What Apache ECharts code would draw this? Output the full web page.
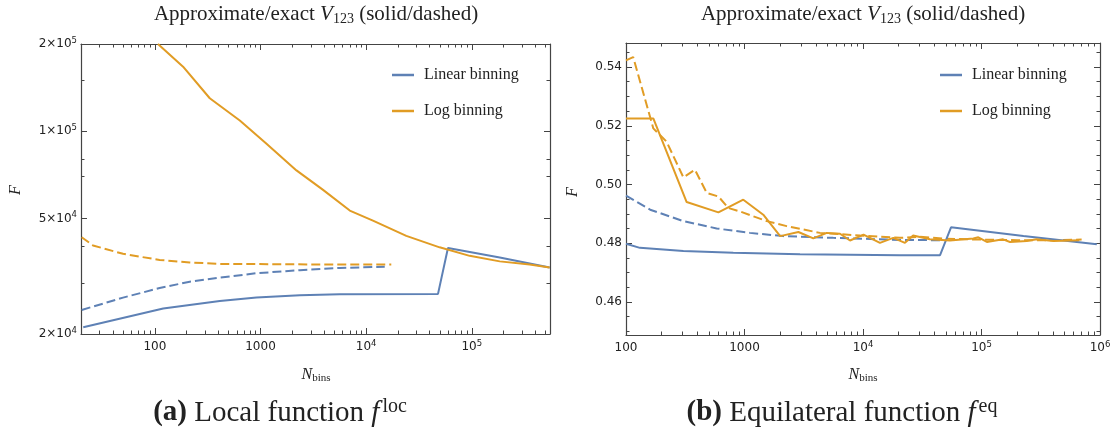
<!DOCTYPE html>
<html><head><meta charset="utf-8">
<script src="https://cdn.jsdelivr.net/npm/echarts@6/dist/echarts.min.js"></script>
<style>html,body{margin:0;padding:0;background:#fff}#c{width:1118px;height:430px}</style>
</head><body><div id="c"></div>
<script>
// ---------- data: (a) local function ----------
const locLogApproxN = [107, 185, 331, 637, 1140, 2190, 3910, 7000, 11600, 24000, 49600, 95500, 184000, 353000, 546000];
const locLogApproxF = [200000, 167000, 130000, 109000, 90600, 73300, 62800, 53300, 49200, 43600, 39800, 37200, 35600, 34700, 33900];
const locLogExactN = [20.3, 26, 50, 111, 214, 412, 5620, 17300];
const locLogExactF = [43100, 40400, 37800, 36000, 35300, 34900, 34700, 34700];
const locLinExactN = [20.3, 50, 111, 214, 412, 916, 2360, 5620, 15000];
const locLinExactF = [24200, 26700, 28800, 30300, 31300, 32400, 33200, 33800, 34100];
const locLinApproxN = [21, 120, 412, 916, 2360, 5620, 47900, 59500, 184000, 546000];
const locLinApproxF = [21100, 24500, 26000, 26700, 27200, 27400, 27500, 39600, 36700, 33900];

// ---------- data: (b) equilateral function ----------
const eqLinApproxN = [100, 131, 305, 804, 2940, 20500, 44700, 55300, 226000, 940000];
const eqLinApproxF = [0.4798, 0.4784, 0.4773, 0.4767, 0.4762, 0.4759, 0.4759, 0.4854, 0.4824, 0.4796];
const eqLinExactN = [100, 160, 305, 582, 1110, 2120, 5610, 20500, 44700];
const eqLinExactF = [0.4962, 0.4914, 0.4875, 0.4850, 0.4835, 0.4824, 0.4818, 0.4811, 0.4810];
const eqLogApproxN = [100, 170, 325, 602, 977, 1440, 2000, 2850, 3810, 4940, 6400, 7770, 10100, 13900, 18000, 22600, 26500, 36700, 54200, 85300, 94000, 111000, 152000, 174000, 241000, 292000, 404000, 668000];
const eqLogApproxF = [0.5225, 0.5225, 0.4940, 0.4905, 0.4948, 0.4897, 0.4824, 0.4838, 0.4816, 0.4835, 0.4832, 0.4809, 0.4829, 0.4801, 0.4818, 0.4801, 0.4826, 0.4813, 0.4809, 0.4816, 0.4820, 0.4804, 0.4813, 0.4804, 0.4807, 0.4813, 0.4807, 0.4810];
const eqLogExactN = [100, 115, 170, 220, 305, 382, 480, 602, 730, 916, 1540, 2270, 4330, 9440, 20500, 30000, 50000, 100000, 200000, 400000, 700000];
const eqLogExactF = [0.5423, 0.5434, 0.5191, 0.5146, 0.5024, 0.5050, 0.4971, 0.4959, 0.4920, 0.4908, 0.4875, 0.4858, 0.4835, 0.4826, 0.4818, 0.4822, 0.4815, 0.4812, 0.4810, 0.4810, 0.4812];

// ---------- ticks ----------
const locXMajor = [100, 1000, 1e4, 1e5];
const locXLabels = ['100', '1000', '10^4', '10^5'];
const locXMinor = [30, 40, 50, 60, 70, 80, 90, 200, 300, 400, 500, 600, 700, 800, 900, 2000, 3000, 4000, 5000, 6000, 7000, 8000, 9000, 2e4, 3e4, 4e4, 5e4, 6e4, 7e4, 8e4, 9e4, 2e5, 3e5, 4e5, 5e5];
const locYMajor = [2e4, 5e4, 1e5, 2e5];
const locYLabels = ['2×10^4', '5×10^4', '1×10^5', '2×10^5'];
const locYMinor = [3e4, 4e4, 7e4, 8e4, 1.5e5];
const eqXMajor = [100, 1000, 1e4, 1e5, 1e6];
const eqXLabels = ['100', '1000', '10^4', '10^5', '10^6'];
const eqXMinor = [200, 300, 400, 500, 600, 700, 800, 900, 2000, 3000, 4000, 5000, 6000, 7000, 8000, 9000, 2e4, 3e4, 4e4, 5e4, 6e4, 7e4, 8e4, 9e4, 2e5, 3e5, 4e5, 5e5, 6e5, 7e5, 8e5, 9e5];
const eqYMajor = [0.46, 0.48, 0.50, 0.52, 0.54];
const eqYLabels = ['0.46', '0.48', '0.50', '0.52', '0.54'];
const eqYMinor = [0.45, 0.455, 0.465, 0.47, 0.475, 0.485, 0.49, 0.495, 0.505, 0.51, 0.515, 0.525, 0.53, 0.535, 0.545];

const LOC_X = [20, 550000], LOC_Y = [2e4, 2e5];
const EQ_X = [100, 1e6], EQ_Y = [0.4487, 0.5482];

// ---------- styling ----------
const BLUE = '#5E81B5', ORANGE = '#E19C24';
const FRAME = '#444', TXT = '#222';
const TICKFONT = 'DejaVu Sans', SERIF = 'Liberation Serif';
const RICH = {
  b: { fontFamily: TICKFONT, fontSize: 12, color: TXT, lineHeight: 16 },
  s: { fontFamily: TICKFONT, fontSize: 8.5, color: TXT, lineHeight: 9, verticalAlign: 'top' }
};
function toRich(l) {
  const m = l.match(/^(.*)\^(\d+)$/);
  return m ? '{b|' + m[1] + '}{s|' + m[2] + '}' : '{b|' + l + '}';
}
const lg = Math.log10;

function frameAxes(dim, grid, ext, majors, minors, labels, isLog) {
  const tf = isLog ? lg : (v => v);
  const min = tf(ext[0]), max = tf(ext[1]);
  const maj = majors.map(tf), mnr = minors.map(tf);
  const fmt = v => {
    let bi = 0, bd = Infinity;
    maj.forEach((m, i) => { const d = Math.abs(m - v); if (d < bd) { bd = d; bi = i; } });
    return toRich(labels[bi]);
  };
  const posA = dim === 'x' ? 'bottom' : 'left';
  const posB = dim === 'x' ? 'top' : 'right';
  const mk = (pos, ticks, len, line, lab) => ({
    type: 'value', gridIndex: grid, position: pos, min: min, max: max, silent: true,
    axisLine: { show: line, onZero: false, lineStyle: { color: FRAME, width: 1.2 } },
    axisTick: { show: true, inside: true, length: len, customValues: ticks, lineStyle: { color: FRAME, width: 1 } },
    axisLabel: lab ? { show: true, customValues: maj, formatter: fmt, margin: dim === 'x' ? 5 : 4, rich: RICH, fontFamily: TICKFONT, fontSize: 12, color: TXT } : { show: false },
    splitLine: { show: false }, splitArea: { show: false }
  });
  return [mk(posA, maj, 6, true, true), mk(posA, mnr, 3.5, false, false), mk(posB, maj, 6, true, false), mk(posB, mnr, 3.5, false, false)];
}

const xAxes = [
  { type: 'log', logBase: 10, gridIndex: 0, position: 'bottom', min: LOC_X[0], max: LOC_X[1], show: false },
  { type: 'log', logBase: 10, gridIndex: 1, position: 'bottom', min: EQ_X[0], max: EQ_X[1], show: false }
].concat(frameAxes('x', 0, LOC_X, locXMajor, locXMinor, locXLabels, true))
 .concat(frameAxes('x', 1, EQ_X, eqXMajor, eqXMinor, eqXLabels, true));
const yAxes = [
  { type: 'log', logBase: 10, gridIndex: 0, position: 'left', min: LOC_Y[0], max: LOC_Y[1], show: false },
  { type: 'value', gridIndex: 1, position: 'left', min: EQ_Y[0], max: EQ_Y[1], show: false }
].concat(frameAxes('y', 0, LOC_Y, locYMajor, locYMinor, locYLabels, true))
 .concat(frameAxes('y', 1, EQ_Y, eqYMajor, eqYMinor, eqYLabels, false));

function line(name, g, N, F, color, dashed) {
  return {
    type: 'line', name: name, xAxisIndex: g, yAxisIndex: g,
    data: N.map((n, i) => [n, F[i]]),
    symbol: 'none', showSymbol: false, clip: true, animation: false,
    lineStyle: { color: color, width: 2, type: dashed ? [9, 4] : 'solid' },
    itemStyle: { color: color }, emphasis: { disabled: true }
  };
}

const series = [
  line('Linear exact a', 0, locLinExactN, locLinExactF, BLUE, true),
  line('Log exact a', 0, locLogExactN, locLogExactF, ORANGE, true),
  line('Linear binning', 0, locLinApproxN, locLinApproxF, BLUE, false),
  line('Log binning', 0, locLogApproxN, locLogApproxF, ORANGE, false),
  line('Linear exact b', 1, eqLinExactN, eqLinExactF, BLUE, true),
  line('Log exact b', 1, eqLogExactN, eqLogExactF, ORANGE, true),
  line('Linear binning', 1, eqLinApproxN, eqLinApproxF, BLUE, false),
  line('Log binning', 1, eqLogApproxN, eqLogApproxF, ORANGE, false)
];

function legend(left) {
  return {
    data: ['Linear binning', 'Log binning'], orient: 'vertical', left: left, top: 62,
    icon: 'rect', itemWidth: 22, itemHeight: 2.5, itemGap: 20, selectedMode: false,
    textStyle: { fontFamily: SERIF, fontSize: 16, color: TXT, lineHeight: 16, padding: [0, 0, 0, 5] }
  };
}

const ST = (o) => Object.assign({ fontFamily: SERIF, fill: TXT }, o);
function title(x) {
  return {
    type: 'text', x: x, y: 14, silent: true,
    style: {
      text: '{n|Approximate/exact }{v|V}{s|123}{n| (solid/dashed)}', align: 'center', verticalAlign: 'middle',
      rich: {
        n: ST({ fontSize: 21, lineHeight: 25 }),
        v: ST({ fontSize: 21, lineHeight: 25, fontStyle: 'italic' }),
        s: ST({ fontSize: 14, lineHeight: 14, verticalAlign: 'bottom' })
      }
    }
  };
}
function xname(x) {
  return {
    type: 'text', x: x, y: 375, silent: true,
    style: {
      text: '{v|N}{s|bins}', align: 'center', verticalAlign: 'middle',
      rich: { v: ST({ fontSize: 16, lineHeight: 18, fontStyle: 'italic' }), s: ST({ fontSize: 11, lineHeight: 11, verticalAlign: 'bottom' }) }
    }
  };
}
function yname(x, y) {
  return {
    type: 'text', x: x, y: y, rotation: Math.PI / 2, silent: true,
    style: { text: 'F', align: 'center', verticalAlign: 'middle', fontFamily: SERIF, fontStyle: 'italic', fontSize: 16, fill: TXT }
  };
}
function caption(x, tag, words, sup) {
  return {
    type: 'text', x: x, y: 413, silent: true,
    style: {
      text: '{b|' + tag + '}{n| ' + words + ' }{i|f}{s|' + sup + '}', align: 'center', verticalAlign: 'middle',
      rich: {
        b: ST({ fontSize: 29, lineHeight: 32, fontWeight: 'bold' }),
        n: ST({ fontSize: 29, lineHeight: 32 }),
        i: ST({ fontSize: 29, lineHeight: 32, fontStyle: 'italic' }),
        s: ST({ fontSize: 20, lineHeight: 24, verticalAlign: 'top', padding: [0, 0, 0, 3] })
      }
    }
  };
}

const chart = echarts.init(document.getElementById('c'), null, { renderer: 'canvas' });
chart.setOption({
  animation: false,
  backgroundColor: '#fff',
  grid: [
    { left: 81, top: 44, width: 469, height: 290, containLabel: false },
    { left: 626, top: 43, width: 474, height: 292, containLabel: false }
  ],
  xAxis: xAxes,
  yAxis: yAxes,
  legend: [legend(387), legend(935)],
  series: series,
  graphic: [
    title(316), title(863),
    xname(316), xname(863),
    yname(16, 190), yname(573, 192),
    caption(280, '(a)', 'Local function', 'loc'),
    caption(842, '(b)', 'Equilateral function', 'eq')
  ]
});
</script></body></html>
